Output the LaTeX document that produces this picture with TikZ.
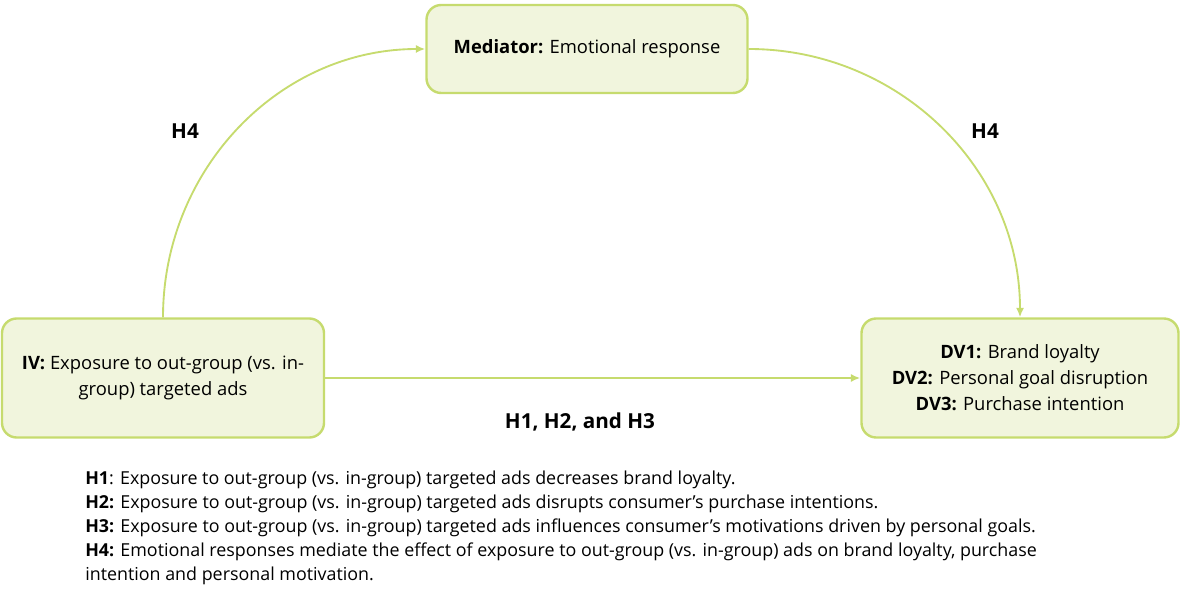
\documentclass[tikz,border=0pt]{standalone}
\usepackage{fontspec}
\setmainfont{Open Sans}
\usetikzlibrary{arrows.meta}
\definecolor{boxline}{RGB}{198,219,110}
\definecolor{boxfill}{RGB}{241,245,221}
\begin{document}
\begin{tikzpicture}[x=0.75pt,y=-0.75pt,
    varbox/.style={draw=boxline,fill=boxfill,line width=1.8pt,rounded corners=11pt,
      align=center,inner sep=0pt,font=\fontsize{13.8}{19.5}\selectfont},
    link/.style={draw=boxline,line width=1.4pt,-{Latex[length=7pt,width=6pt]}},
    hyp/.style={font=\bfseries\fontsize{15.5}{17}\selectfont}]
    \useasboundingbox (0,0) rectangle (1181,591);
    % the three variables
    \node[varbox,minimum width=240.75pt,minimum height=66pt] (med) at (587,49)
        {\textbf{Mediator:} Emotional response};
    \node[varbox,minimum width=241.5pt,minimum height=89.25pt] (iv) at (163,378)
        {\textbf{IV:} Exposure to out-group (vs. in-\\group) targeted ads};
    \node[varbox,minimum width=237.75pt,minimum height=89.25pt] (dv) at (1020,378)
        {\textbf{DV1:} Brand loyalty\\\textbf{DV2:} Personal goal disruption\\\textbf{DV3:} Purchase intention};
    % paths
    \draw[link] (iv.north) to[out=90,in=180] (med.west);
    \draw[link] (med.east) to[out=0,in=90] (dv.north);
    \draw[link] (iv.east) -- (dv.west);
    \node[hyp] (h4a) at (185,131) {H4};
    \node[hyp] (h4b) at (985,131) {H4};
    \node[hyp] (h123) at (580,422) {H1, H2, and H3};
    % hypotheses
    \node[anchor=north west,align=left,inner sep=0pt,font=\fontsize{13.4}{18}\selectfont] (legend) at (85,471)
        {\textbf{H1}: Exposure to out-group (vs. in-group) targeted ads decreases brand loyalty.\\
         \textbf{H2:} Exposure to out-group (vs. in-group) targeted ads disrupts consumer's purchase intentions.\\
         \textbf{H3:} Exposure to out-group (vs. in-group) targeted ads influences consumer’s motivations driven by personal goals.\\
         \textbf{H4:} Emotional responses mediate the effect of exposure to out-group (vs. in-group) ads on brand loyalty, purchase\\
         intention and personal motivation.};
\end{tikzpicture}
\end{document}
